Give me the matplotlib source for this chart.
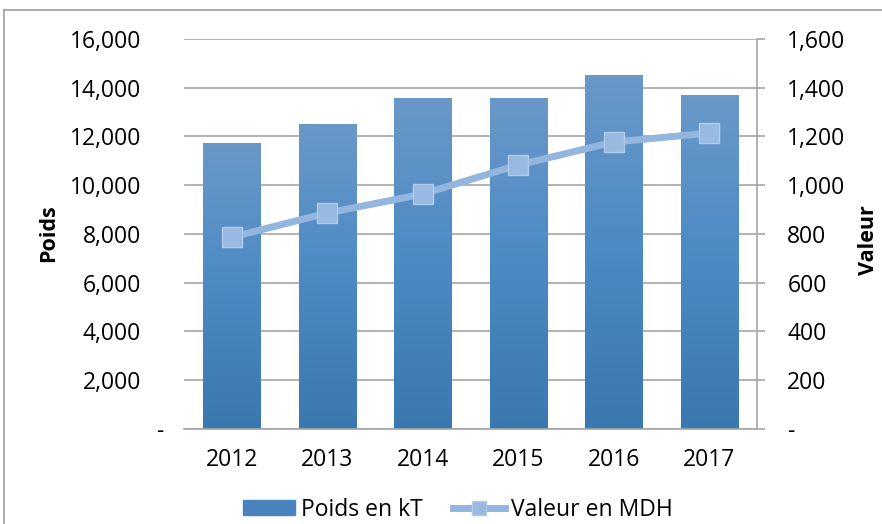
import matplotlib
matplotlib.use("Agg")
import matplotlib.pyplot as plt
import numpy as np
from matplotlib.patches import Rectangle
from matplotlib.lines import Line2D
from matplotlib.colors import LinearSegmentedColormap
from matplotlib.transforms import ScaledTranslation

years = ["2012", "2013", "2014", "2015", "2016", "2017"]
poids = [11730, 12510, 13580, 13580, 14520, 13700]
valeur = [787, 886, 964, 1083, 1177, 1214]
left_ticks = [0, 2000, 4000, 6000, 8000, 10000, 12000, 14000, 16000]
right_ticks = [0, 200, 400, 600, 800, 1000, 1200, 1400, 1600]

plt.rcParams['font.family'] = ['Open Sans', 'DejaVu Sans']
FS = 16.5
fig = plt.figure(figsize=(8.82, 5.24), dpi=100)
ax = fig.add_axes([0.2086, 0.1813, 0.6497, 0.7443])
ax2 = ax.twinx()

x = np.arange(len(years))

cmap = LinearSegmentedColormap.from_list("g", ["#3b77b0", "#4b8ac5", "#6a98c8"])
grad = np.linspace(0, 1, 256).reshape(-1, 1)
bw = 0.6
bars = ax.bar(x, poids, width=bw, color="none", zorder=2)
for b in bars:
    x0, w, h = b.get_x(), b.get_width(), b.get_height()
    im = ax.imshow(grad, cmap=cmap, aspect="auto", extent=[x0, x0 + w, 0, h],
                   origin="lower", zorder=2)
    im.set_clip_path(b)
    im.set_clim(0, 1)
ax.set_xlim(-0.5, len(years) - 0.5)
ax.set_ylim(0, 16000)
ax2.set_ylim(0, 1600)

ax.set_yticks(left_ticks)
ax.set_yticklabels(["-"] + [f"{v:,}" for v in left_ticks[1:]])
ax2.set_yticks(right_ticks)
ax2.set_yticklabels(["-"] + [f"{v:,}" for v in right_ticks[1:]])
ax.set_xticks(x)
ax.set_xticklabels(years)
ax.grid(axis="y", color="#a6a6a6", linewidth=1.2, zorder=0)
ax.set_axisbelow(True)

for a in (ax, ax2):
    for s in a.spines.values():
        s.set_visible(False)
ax2.spines["right"].set_visible(True)
ax2.spines["right"].set_color("#a6a6a6")
ax2.spines["right"].set_linewidth(1.2)
ax.spines["bottom"].set_visible(True)
ax.spines["bottom"].set_color("#a6a6a6")
ax.spines["bottom"].set_linewidth(1.2)

ax.tick_params(axis="y", length=0, labelsize=FS, pad=31, colors="black")
ax.tick_params(axis="x", length=0, labelsize=FS, pad=14)
ax2.tick_params(axis="y", length=5.8, color="#a6a6a6", width=1.2, labelsize=FS, pad=16)

# Excel accounting format places the zero dash further right
lbl0 = ax.get_yticklabels()[0]
lbl0.set_transform(lbl0.get_transform() + ScaledTranslation(0.22, 0, fig.dpi_scale_trans))

ax2.plot(x, valeur, color="#93b6df", linewidth=5, marker="s", markersize=14,
         markerfacecolor="#98b9e0", markeredgecolor="#b3cbe8", markeredgewidth=1, zorder=5)

fig.text(49 / 882, 1 - 233 / 524, "Poids", rotation=90, fontsize=FS - 1, fontweight="bold",
         ha="center", va="center")
fig.text(869 / 882, 1 - 240 / 524, "Valeur", rotation=90, fontsize=FS - 1, fontweight="bold",
         ha="center", va="center")

# outer frame
fig.add_artist(Line2D([0.0045, 0.0045], [0, 0.981], color="#a0a0a0", linewidth=1.2,
                      transform=fig.transFigure))
fig.add_artist(Line2D([0.0045, 1.0], [0.981, 0.981], color="#a0a0a0", linewidth=1.2,
                      transform=fig.transFigure))

handles = [Rectangle((0, 0), 1, 1, color="#4a82bd"),
           Line2D([], [], color="#93b6df", linewidth=5, marker="s", markersize=10,
                  markerfacecolor="#98b9e0", markeredgecolor="#b3cbe8")]
fig.legend(handles, ["Poids en kT", "Valeur en MDH"], loc="center",
           bbox_to_anchor=(0.519, 0.027), ncol=2, frameon=False, fontsize=FS,
           handlelength=2.3, handleheight=0.6, handletextpad=0.25, columnspacing=1.3,
           borderpad=0)

fig.savefig("out.png", dpi=100)
